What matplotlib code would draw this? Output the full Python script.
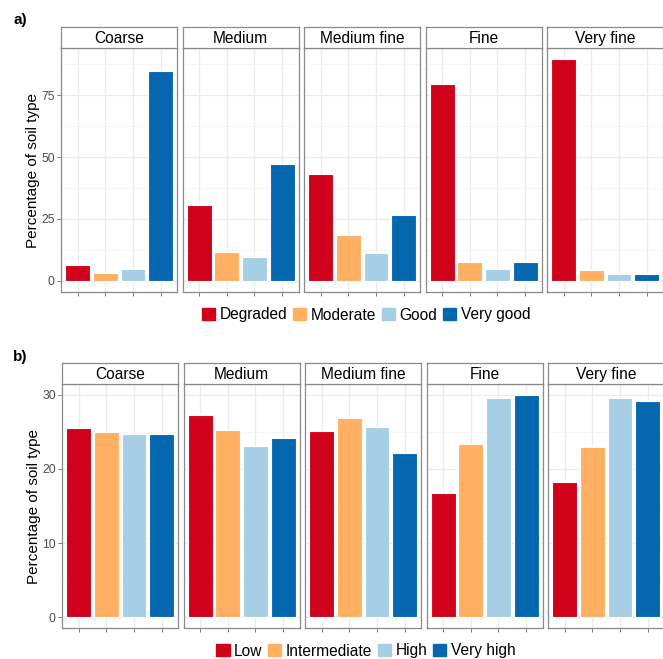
import numpy as np
import matplotlib.pyplot as plt
from matplotlib.patches import Rectangle

plt.rcParams['font.family'] = ['Liberation Sans', 'DejaVu Sans']

textures = ['Coarse', 'Medium', 'Medium fine', 'Fine', 'Very fine']
colors = ['#d0021b', '#ffb062', '#a6cfe5', '#0568ae']

# panel a: soil condition
cond_labels = ['Degraded', 'Moderate', 'Good', 'Very good']
cond_values = np.array([
    [6.5, 3.1, 5.0, 84.8],    # Coarse
    [30.6, 11.7, 9.5, 47.3],  # Medium
    [43.1, 18.4, 11.4, 26.5], # Medium fine
    [79.3, 7.8, 5.0, 7.5],    # Fine
    [89.4, 4.4, 2.8, 2.8],    # Very fine
])
cond_ticks = [0, 25, 50, 75]

# panel b: productivity
prod_labels = ['Low', 'Intermediate', 'High', 'Very high']
prod_values = np.array([
    [25.5, 24.9, 24.7, 24.7],
    [27.3, 25.3, 23.1, 24.1],
    [25.1, 26.9, 25.7, 22.2],
    [16.8, 23.4, 29.6, 29.9],
    [18.2, 23.0, 29.5, 29.1],
])
prod_ticks = [0, 10, 20, 30]

W, H = 663, 659
fig = plt.figure(figsize=(W / 100, H / 100), dpi=100)
edge = '#8a8a8a'


def px(left, top, width, height):
    return [left / W, 1 - (top + height) / H, width / W, height / H]


def facet_row(values, labels, ticks, minor, left0, top, bottom, strip_top, legend_y, tag, tag_y):
    pw, gap = 116.3, 5.2
    ymax = values.max()
    for i, name in enumerate(textures):
        left = left0 + i * (pw + gap)
        ax = fig.add_axes(px(left, top, pw, bottom - top))
        x = np.arange(1, 5)
        ax.bar(x, values[i], width=0.9, color=colors, edgecolor='white', linewidth=0.8, zorder=3)
        ax.set_xlim(0.4, 4.6)
        ax.set_ylim(-0.05 * ymax, 1.05 * ymax)
        ax.set_xticks(x)
        ax.set_xticklabels([])
        ax.set_yticks(ticks)
        ax.set_yticks(minor, minor=True)
        ax.grid(True, which='major', color='#ebebeb', linewidth=0.9, zorder=0)
        ax.grid(True, which='minor', axis='y', color='#f4f4f4', linewidth=0.6, zorder=0)
        ax.tick_params(axis='x', length=3, color='#666666', width=0.6)
        ax.tick_params(axis='y', which='minor', length=0)
        if i == 0:
            ax.tick_params(axis='y', length=3, color='#666666', width=0.6,
                           labelsize=8.7, labelcolor='#4d4d4d', pad=1.5)
            ax.set_ylabel('Percentage of soil type', fontsize=11, labelpad=1)
        else:
            ax.tick_params(axis='y', length=0, labelleft=False)
        for s in ax.spines.values():
            s.set_color(edge)
            s.set_linewidth(0.9)
        # facet strip
        sax = fig.add_axes(px(left, strip_top, pw, top - strip_top))
        sax.set_xticks([])
        sax.set_yticks([])
        for s in sax.spines.values():
            s.set_color(edge)
            s.set_linewidth(0.9)
        sax.text(0.5, 0.45, name, ha='center', va='center', fontsize=11.2, transform=sax.transAxes)
    handles = [Rectangle((0, 0), 1, 1, color=c) for c in colors]
    fig.legend(handles, labels, loc='center', bbox_to_anchor=(366 / W, 1 - legend_y / H),
               ncol=4, frameon=False, fontsize=11.2, handlelength=0.85, handleheight=0.85,
               handletextpad=0.3, columnspacing=0.35, borderaxespad=0)
    fig.text(13 / W, 1 - tag_y / H, tag, fontsize=11, fontweight='bold', va='center')


facet_row(cond_values, cond_labels, cond_ticks, [12.5, 37.5, 62.5, 87.5],
          61, 48.3, 292, 26.7, 315, 'a)', 20)
facet_row(prod_values, prod_labels, prod_ticks, [5, 15, 25],
          62, 384.3, 628.3, 362.7, 651, 'b)', 357)

fig.savefig('out.png', dpi=100)
